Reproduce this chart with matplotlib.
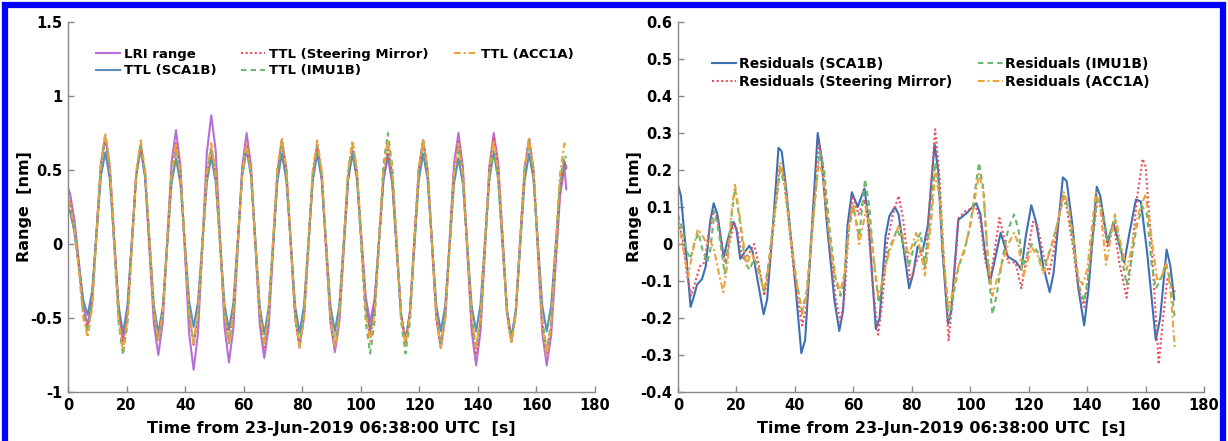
import numpy as np
import matplotlib
matplotlib.use("Agg")
import matplotlib.pyplot as plt
from matplotlib.patches import Rectangle

plt.rcParams['font.family'] = ['DejaVu Sans']
plt.rcParams['font.weight'] = 'bold'
plt.rcParams['axes.unicode_minus'] = False

# ---------------- data: left panel (range, nm) ----------------
t_left = np.concatenate([[0.0], 0.7 + 1.5075 * np.arange(113), [170.2]])

lri_range = [
    0.38, 0.34, 0.16, -0.12, -0.42, -0.55,
    -0.37, 0.09, 0.54, 0.72, 0.52, 0.04, -0.45, -0.65,
    -0.46, 0.01, 0.47, 0.66, 0.45, -0.05, -0.54, -0.75,
    -0.53, 0.01, 0.55, 0.77, 0.53, -0.04, -0.61, -0.85,
    -0.60, 0.01, 0.62, 0.87, 0.63, 0.04, -0.56, -0.80,
    -0.57, -0.03, 0.52, 0.75, 0.53, -0.01, -0.55, -0.77,
    -0.56, -0.04, 0.49, 0.70, 0.50, 0.01, -0.49, -0.69,
    -0.49, -0.02, 0.46, 0.66, 0.46, -0.04, -0.53, -0.73,
    -0.53, -0.05, 0.43, 0.63, 0.46, 0.05, -0.36, -0.53,
    -0.37, 0.03, 0.43, 0.59, 0.41, -0.04, -0.48, -0.66,
    -0.46, 0.02, 0.50, 0.70, 0.50, 0.00, -0.50, -0.70,
    -0.49, 0.03, 0.54, 0.75, 0.52, -0.04, -0.59, -0.82,
    -0.59, -0.04, 0.52, 0.75, 0.55, 0.05, -0.45, -0.65,
    -0.45, 0.03, 0.51, 0.71, 0.49, -0.06, -0.60, -0.82,
    -0.62, -0.15, 0.32, 0.52, 0.37]

ttl_sca1b = [
    0.24, 0.22, 0.08, -0.15, -0.38, -0.48,
    -0.32, 0.07, 0.46, 0.62, 0.44, 0.01, -0.42, -0.60,
    -0.42, 0.02, 0.46, 0.64, 0.46, 0.02, -0.42, -0.60,
    -0.43, -0.01, 0.41, 0.58, 0.41, 0.01, -0.39, -0.56,
    -0.39, 0.02, 0.42, 0.59, 0.42, 0.01, -0.41, -0.58,
    -0.40, 0.03, 0.46, 0.64, 0.46, 0.02, -0.43, -0.61,
    -0.43, 0.00, 0.43, 0.61, 0.43, 0.01, -0.42, -0.60,
    -0.42, 0.01, 0.43, 0.61, 0.44, 0.01, -0.42, -0.59,
    -0.42, 0.01, 0.44, 0.61, 0.44, 0.01, -0.42, -0.59,
    -0.42, 0.01, 0.44, 0.61, 0.43, -0.02, -0.47, -0.65,
    -0.47, -0.02, 0.43, 0.61, 0.44, 0.01, -0.42, -0.59,
    -0.42, -0.01, 0.41, 0.58, 0.41, -0.01, -0.42, -0.59,
    -0.41, 0.02, 0.44, 0.62, 0.44, -0.01, -0.45, -0.63,
    -0.45, -0.01, 0.43, 0.61, 0.44, 0.01, -0.42, -0.59,
    -0.42, -0.02, 0.39, 0.56, 0.52]

ttl_mirror = [
    0.32, 0.29, 0.12, -0.15, -0.46, -0.58,
    -0.39, 0.07, 0.53, 0.72, 0.52, 0.03, -0.46, -0.66,
    -0.47, 0.01, 0.48, 0.67, 0.48, 0.01, -0.47, -0.66,
    -0.46, 0.01, 0.48, 0.68, 0.48, 0.00, -0.48, -0.68,
    -0.49, -0.02, 0.46, 0.65, 0.46, -0.01, -0.47, -0.66,
    -0.46, 0.01, 0.48, 0.68, 0.48, -0.01, -0.50, -0.70,
    -0.50, 0.00, 0.50, 0.70, 0.50, 0.00, -0.50, -0.70,
    -0.50, -0.01, 0.48, 0.68, 0.48, -0.01, -0.50, -0.70,
    -0.50, -0.01, 0.48, 0.68, 0.49, 0.03, -0.43, -0.62,
    -0.44, 0.02, 0.46, 0.65, 0.46, -0.01, -0.48, -0.67,
    -0.47, 0.02, 0.50, 0.70, 0.50, 0.00, -0.50, -0.70,
    -0.50, 0.00, 0.50, 0.70, 0.49, -0.03, -0.54, -0.75,
    -0.53, -0.02, 0.50, 0.72, 0.52, 0.03, -0.47, -0.67,
    -0.47, 0.03, 0.52, 0.72, 0.51, -0.01, -0.53, -0.74,
    -0.55, -0.10, 0.36, 0.55, 0.50]

ttl_imu1b = [
    0.28, 0.26, 0.10, -0.16, -0.48, -0.60,
    -0.40, 0.07, 0.54, 0.74, 0.52, -0.01, -0.53, -0.75,
    -0.54, -0.04, 0.47, 0.68, 0.48, 0.01, -0.46, -0.66,
    -0.47, -0.01, 0.45, 0.64, 0.45, -0.02, -0.48, -0.67,
    -0.48, -0.01, 0.46, 0.65, 0.46, -0.01, -0.48, -0.67,
    -0.48, -0.01, 0.47, 0.66, 0.46, -0.01, -0.48, -0.68,
    -0.48, 0.01, 0.50, 0.70, 0.50, 0.01, -0.48, -0.68,
    -0.48, -0.01, 0.47, 0.67, 0.47, 0.00, -0.47, -0.67,
    -0.47, 0.01, 0.48, 0.68, 0.47, -0.03, -0.53, -0.74,
    -0.52, 0.01, 0.53, 0.75, 0.53, 0.01, -0.52, -0.74,
    -0.53, -0.02, 0.49, 0.70, 0.50, 0.01, -0.48, -0.68,
    -0.49, -0.02, 0.46, 0.65, 0.45, -0.03, -0.50, -0.70,
    -0.51, -0.04, 0.44, 0.63, 0.44, -0.02, -0.47, -0.66,
    -0.46, 0.02, 0.50, 0.70, 0.49, -0.01, -0.51, -0.72,
    -0.53, -0.06, 0.41, 0.60, 0.58]

ttl_acc1a = [
    0.30, 0.27, 0.10, -0.17, -0.50, -0.63,
    -0.43, 0.06, 0.55, 0.75, 0.54, 0.02, -0.51, -0.72,
    -0.51, -0.01, 0.49, 0.70, 0.50, 0.02, -0.46, -0.66,
    -0.46, 0.01, 0.48, 0.68, 0.48, 0.01, -0.47, -0.67,
    -0.47, 0.01, 0.48, 0.68, 0.48, 0.01, -0.47, -0.67,
    -0.47, 0.01, 0.48, 0.68, 0.48, 0.01, -0.47, -0.67,
    -0.47, 0.03, 0.52, 0.72, 0.51, 0.01, -0.49, -0.70,
    -0.50, 0.00, 0.50, 0.70, 0.50, 0.00, -0.50, -0.70,
    -0.50, 0.00, 0.50, 0.70, 0.50, 0.02, -0.46, -0.66,
    -0.46, 0.02, 0.50, 0.70, 0.50, 0.01, -0.48, -0.68,
    -0.48, 0.02, 0.51, 0.71, 0.50, 0.01, -0.49, -0.70,
    -0.50, -0.01, 0.48, 0.68, 0.48, -0.01, -0.50, -0.70,
    -0.50, 0.00, 0.50, 0.70, 0.50, 0.02, -0.47, -0.67,
    -0.47, 0.02, 0.51, 0.71, 0.50, -0.03, -0.55, -0.76,
    -0.55, -0.04, 0.47, 0.68, 0.66]

# ---------------- data: right panel (residuals, nm) ----------------
t_res_sca1b = [0, 1, 2.5, 4.3, 5.5, 6.5, 8.2, 9.5, 11, 12.2, 13.5, 15.6, 17.3, 19.0, 20,
               21.3, 23, 24.4, 25.5, 27.5, 29.3, 30.5, 32.5, 34.4, 35.5, 37, 39.5, 42.2,
               43.5, 45.5, 47.8, 49, 51, 53.5, 55.2, 56.5, 58, 59.5, 61.5, 63.8, 65, 67.7,
               69, 71, 72.3, 74.2, 75.5, 77.5, 79.1, 80.5, 82, 83.7, 85.5, 87.8, 89, 90.5,
               92.4, 93.5, 95.9, 98.7, 102.1, 103.5, 105, 106.7, 108.5, 110.4, 112.9,
               115.7, 117.5, 119, 120.9, 122.5, 125, 127.2, 128.5, 131.7, 133, 135, 137,
               139.0, 140.5, 143.3, 144.5, 147.0, 149.0, 152.7, 154.5, 156.7, 158.4,
               160.5, 163.5, 165, 167.2, 168.5, 169.8]
res_sca1b = [0.16, 0.13, 0.0, -0.17, -0.14, -0.11, -0.095, -0.06, 0.06, 0.11, 0.08, -0.035,
             0.02, 0.06, 0.04, -0.04, -0.02, -0.005, -0.02, -0.11, -0.19, -0.15, 0.05, 0.26,
             0.25, 0.15, -0.05, -0.295, -0.26, 0.0, 0.30, 0.24, 0.05, -0.15, -0.235, -0.18,
             0.05, 0.14, 0.10, 0.15, 0.08, -0.23, -0.20, 0.02, 0.075, 0.10, 0.08, -0.03,
             -0.12, -0.08, -0.007, -0.02, 0.05, 0.27, 0.20, -0.02, -0.215, -0.18, 0.065,
             0.083, 0.11, 0.08, -0.02, -0.105, -0.04, 0.03, -0.034, -0.048, -0.07, 0.02,
             0.105, 0.06, -0.06, -0.13, -0.08, 0.18, 0.17, 0.05, -0.12, -0.22, -0.12, 0.155,
             0.13, 0.003, 0.057, -0.05, 0.03, 0.12, 0.115, -0.02, -0.26, -0.20, -0.015,
             -0.06, -0.15]

t_res_mirror = [0, 1.5, 3, 4.5, 6, 7.5, 9, 10.5, 12.2, 13.5, 16, 17.5, 19.2, 20.5, 22, 24,
                26, 27.5, 29.5, 31, 33, 34.8, 36, 38, 40, 42.5, 44, 46, 48.2, 49.5, 51.5,
                54, 55.6, 57, 58.5, 59.8, 61.8, 63.8, 65, 66.5, 68.5, 70, 71.5, 73.5, 75.5,
                77, 79.5, 81, 83, 84.5, 86.5, 88, 89.5, 91, 92.6, 94, 96, 98.5, 102, 103.5,
                105, 106.8, 108.3, 110, 111.5, 113, 115.5, 117.5, 119, 121.5, 123, 125, 127,
                128.5, 131.5, 133, 135, 137, 139, 140.5, 143.5, 145, 147, 149, 151, 153.5,
                155, 157, 159, 160, 162, 164.5, 166, 167.5, 169, 170]
res_mirror = [0.06, 0.02, -0.08, -0.14, -0.10, -0.06, -0.05, 0.03, 0.09, 0.07, -0.05, 0.0,
              0.06, 0.03, -0.04, -0.03, 0.0, -0.05, -0.14, -0.08, 0.07, 0.21, 0.19, 0.05,
              -0.10, -0.22, -0.17, 0.05, 0.27, 0.22, 0.03, -0.15, -0.21, -0.14, 0.05, 0.13,
              0.08, 0.12, 0.06, -0.10, -0.245, -0.15, 0.0, 0.08, 0.13, 0.07, -0.10, -0.06,
              -0.02, -0.07, 0.15, 0.31, 0.18, -0.05, -0.26, -0.15, 0.07, 0.09, 0.10, 0.06,
              -0.04, -0.10, -0.02, 0.07, 0.02, -0.05, -0.05, -0.12, -0.05, 0.06, 0.05, -0.03,
              -0.08, -0.02, 0.13, 0.10, 0.0, -0.12, -0.17, -0.08, 0.12, 0.09, -0.01, 0.06,
              -0.05, -0.145, -0.05, 0.12, 0.23, 0.21, 0.0, -0.325, -0.20, -0.09, -0.11, -0.13]

t_res_imu1b = [0, 1.5, 3, 4.2, 5.5, 7, 8.5, 10, 11, 12.5, 14, 16, 17.5, 19.5, 21, 23, 24.5,
               26, 27.5, 29.5, 31, 33, 35, 36.5, 38.5, 40.5, 42.5, 44, 46, 48.5, 50, 52, 54,
               55.6, 57, 58.5, 60, 62, 64, 65.5, 67, 68.7, 70, 72, 75, 77, 79, 81, 83, 84.5,
               86.5, 88, 89.5, 91, 92.6, 94, 96, 98, 100, 103, 104.5, 106, 107.6, 109, 111,
               113, 115, 116.5, 118, 121, 123, 125, 128, 130, 132, 133.5, 135.5, 137.5, 139,
               140.5, 143.5, 145, 147, 149.5, 151.5, 153.5, 155, 157, 159, 160.5, 162, 163.5,
               165, 167, 168.5, 170]
res_imu1b = [0.08, 0.04, -0.02, -0.04, 0.0, 0.03, -0.02, -0.05, -0.02, 0.09, 0.03, -0.08,
             0.02, 0.15, 0.07, -0.05, -0.07, -0.04, -0.06, -0.13, -0.05, 0.08, 0.20, 0.16,
             0.03, -0.10, -0.18, -0.13, 0.05, 0.25, 0.20, 0.03, -0.10, -0.14, -0.08, 0.04,
             0.10, 0.02, 0.175, 0.10, -0.05, -0.16, -0.10, -0.02, 0.04, 0.0, -0.06, 0.0,
             0.03, -0.06, 0.08, 0.22, 0.15, -0.05, -0.20, -0.15, -0.06, -0.02, 0.05, 0.22,
             0.15, -0.05, -0.19, -0.14, -0.04, 0.04, 0.08, 0.04, -0.06, 0.0, -0.02, -0.07,
             0.0, 0.06, 0.13, 0.10, -0.02, -0.12, -0.155, -0.08, 0.13, 0.10, 0.01, 0.07,
             -0.02, -0.11, -0.05, 0.05, 0.10, 0.08, -0.05, -0.12, -0.10, -0.05, -0.10, -0.20]

t_res_acc1a = [0, 1.5, 3.5, 5, 6.8, 8.5, 10, 11, 12.5, 14, 15.5, 17, 18.5, 19.5, 21, 23.5,
               25, 27, 29.5, 31, 33, 35, 36.5, 38.5, 40.5, 42.5, 44, 46, 48, 49.5, 51.5,
               53.5, 55.5, 57, 58.5, 60, 62, 64.5, 66, 68.5, 70, 72, 75.5, 77, 79, 81.5, 83,
               84.5, 86.5, 88, 89.5, 91, 92.6, 94, 96, 98.5, 100.5, 103, 104.5, 106, 107.6,
               109, 111, 113, 115, 116.5, 118, 121, 123, 125, 128, 130, 132, 133.5, 135.5,
               137, 138.5, 140, 143, 144.5, 146.5, 149.5, 151.5, 153.5, 155, 157.5, 160,
               161.5, 164, 165.5, 167, 168.5, 170]
res_acc1a = [0.07, 0.0, -0.09, -0.02, 0.04, 0.02, 0.0, 0.01, -0.02, -0.08, -0.13, -0.05,
             0.10, 0.16, 0.08, -0.06, -0.02, -0.06, -0.13, -0.06, 0.08, 0.22, 0.17, 0.02,
             -0.10, -0.19, -0.14, 0.04, 0.22, 0.19, 0.04, -0.08, -0.13, -0.08, 0.05, 0.11,
             0.0, 0.10, 0.03, -0.14, -0.10, -0.03, 0.05, 0.02, -0.03, 0.03, -0.02, -0.085,
             0.05, 0.19, 0.13, -0.05, -0.17, -0.13, -0.06, 0.0, 0.07, 0.19, 0.14, -0.03,
             -0.14, -0.10, -0.05, 0.0, 0.03, 0.0, -0.09, -0.01, -0.03, -0.08, 0.0, 0.06,
             0.14, 0.11, 0.0, -0.09, -0.11, -0.07, 0.14, 0.10, -0.056, 0.08, 0.0, -0.07,
             -0.02, 0.08, 0.135, 0.05, -0.10, -0.09, -0.05, -0.12, -0.28]

x_ticks = [0, 20, 40, 60, 80, 100, 120, 140, 160, 180]
left_yticks = [-1, -0.5, 0, 0.5, 1, 1.5]
left_yticklabels = ['-1', '-0.5', '0', '0.5', '1', '1.5']
right_yticks = [-0.4, -0.3, -0.2, -0.1, 0, 0.1, 0.2, 0.3, 0.4, 0.5, 0.6]
right_yticklabels = ['-0.4', '-0.3', '-0.2', '-0.1', '0', '0.1', '0.2', '0.3', '0.4', '0.5', '0.6']
xlabel_text = 'Time from 23-Jun-2019 06:38:00 UTC  [s]'
ylabel_text = 'Range  [nm]'

# ---------------- styles ----------------
C_PURPLE = '#b86fd6'
C_BLUE_L = '#5f8fb5'
C_BLUE_R = '#3d6fb3'
C_RED = '#e8505f'
C_GREEN = '#6cb86c'
C_ORANGE = '#eda23a'
SPINE = '#888888'
DOT = (0, (1, 1.2))
DASH = (0, (2.6, 2.0))
DASHDOT = (0, (3.2, 1.4, 1.0, 1.4))

fig = plt.figure(figsize=(12.28, 4.41), dpi=100)
axL = fig.add_axes([68 / 1228, 1 - 392 / 441, 527 / 1228, 370 / 441])
axR = fig.add_axes([678 / 1228, 1 - 392 / 441, 526 / 1228, 370 / 441])

lw = 1.5
axL.plot(t_left, lri_range, color=C_PURPLE, lw=lw, label='LRI range')
axL.plot(t_left, ttl_sca1b, color=C_BLUE_L, lw=lw, label='TTL (SCA1B)')
axL.plot(t_left, ttl_mirror, color=C_RED, lw=lw, ls=DOT, label='TTL (Steering Mirror)')
axL.plot(t_left, ttl_imu1b, color=C_GREEN, lw=lw, ls=DASH, label='TTL (IMU1B)')
axL.plot(t_left, ttl_acc1a, color=C_ORANGE, lw=lw, ls=DASHDOT, label='TTL (ACC1A)')

axR.plot(t_res_sca1b, res_sca1b, color=C_BLUE_R, lw=lw, label='Residuals (SCA1B)')
axR.plot(t_res_mirror, res_mirror, color=C_RED, lw=lw, ls=DOT, label='Residuals (Steering Mirror)')
axR.plot(t_res_imu1b, res_imu1b, color=C_GREEN, lw=lw, ls=DASH, label='Residuals (IMU1B)')
axR.plot(t_res_acc1a, res_acc1a, color=C_ORANGE, lw=lw, ls=DASHDOT, label='Residuals (ACC1A)')

for ax, yt, ytl, ylim in [(axL, left_yticks, left_yticklabels, (-1, 1.5)),
                          (axR, right_yticks, right_yticklabels, (-0.4, 0.6))]:
    ax.set_xlim(0, 180)
    ax.set_ylim(*ylim)
    ax.set_xticks(x_ticks)
    ax.set_xticklabels([str(v) for v in x_ticks])
    ax.set_yticks(yt)
    ax.set_yticklabels(ytl)
    for s in ['top', 'right']:
        ax.spines[s].set_visible(False)
    for s in ['left', 'bottom']:
        ax.spines[s].set_color(SPINE)
        ax.spines[s].set_linewidth(1.0)
    ax.tick_params(direction='in', length=4, width=1, color=SPINE,
                   labelsize=10.5, labelcolor='black', pad=4)
    for lab in ax.get_xticklabels() + ax.get_yticklabels():
        lab.set_fontweight('bold')
    ax.set_xlabel(xlabel_text, fontsize=11.5, fontweight='bold', labelpad=6)
    ax.set_ylabel(ylabel_text, fontsize=11.5, fontweight='bold', labelpad=-1)

legL = axL.legend(ncol=3, loc='upper left', bbox_to_anchor=(0.053, 0.93), frameon=False,
                  fontsize=9.5, handlelength=1.8, handletextpad=0.3, columnspacing=1.9,
                  labelspacing=0.25, borderpad=0, borderaxespad=0)
legR = axR.legend(ncol=2, loc='upper left', bbox_to_anchor=(0.065, 0.905), frameon=False,
                  fontsize=10, handlelength=1.75, handletextpad=0.15, columnspacing=1.9,
                  labelspacing=0.25, borderpad=0, borderaxespad=0)
for leg in (legL, legR):
    for txt in leg.get_texts():
        txt.set_fontweight('bold')

# blue frame around the figure
fig.add_artist(Rectangle((5 / 1228, -0.1), 1218 / 1228, 1.1 - 5 / 441,
                         transform=fig.transFigure, fill=False, ec='#0000ff', lw=4.5))

fig.savefig('out.png', dpi=100, facecolor='white')
